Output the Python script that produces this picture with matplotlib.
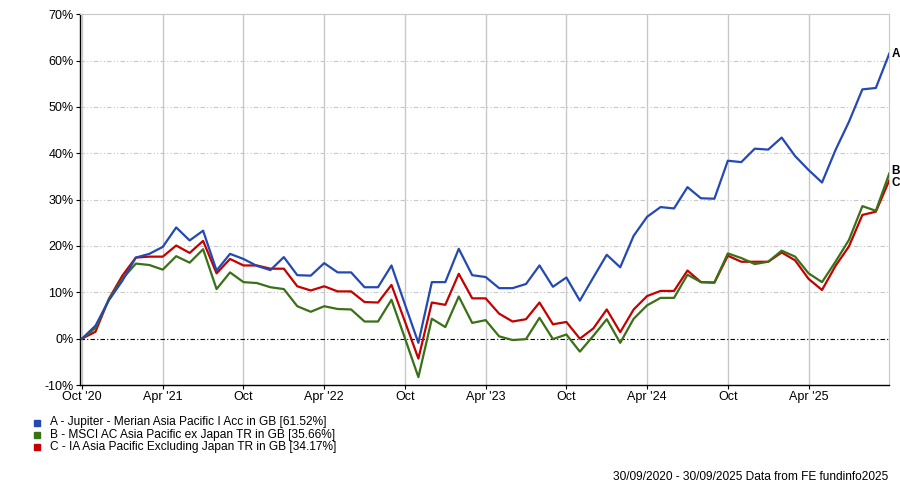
import matplotlib.pyplot as plt
import numpy as np

plt.rcParams['font.family'] = ['Liberation Sans', 'DejaVu Sans']

# monthly cumulative performance (%), 30/09/2020 - 30/09/2025
fund_a = [0, 2.8, 8.3, 12.5, 17.5, 18.3, 19.8, 24.0, 21.2, 23.3, 14.7, 18.3, 17.2,
          15.7, 14.8, 17.6, 13.7, 13.6, 16.3, 14.3, 14.3, 11.1, 11.1, 15.8, 7.4,
          -0.9, 12.2, 12.2, 19.4, 13.7, 13.3, 10.9, 10.9, 11.8, 15.8, 11.2, 13.2,
          8.2, 13.2, 18.1, 15.4, 22.2, 26.3, 28.4, 28.1, 32.7, 30.3, 30.2, 38.4,
          38.1, 41.0, 40.8, 43.4, 39.4, 36.4, 33.7, 40.7, 46.8, 53.8, 54.1, 61.52]
index_b = [0, 2.3, 8.5, 12.9, 16.2, 15.9, 14.9, 17.8, 16.4, 19.3, 10.7, 14.3, 12.2,
           12.0, 11.1, 10.7, 7.0, 5.8, 7.0, 6.4, 6.3, 3.7, 3.7, 8.4, 0.1,
           -8.3, 4.3, 2.5, 9.1, 3.4, 4.0, 0.5, -0.3, -0.1, 4.5, -0.1, 0.9,
           -2.8, 0.6, 4.2, -0.9, 4.3, 7.2, 8.8, 8.8, 13.8, 12.2, 12.1, 18.4,
           17.4, 16.1, 16.6, 19.0, 17.7, 14.1, 12.2, 16.6, 21.3, 28.6, 27.6, 35.66]
sector_c = [0, 1.5, 8.6, 13.6, 17.5, 17.7, 17.7, 20.1, 18.5, 21.1, 14.1, 17.2, 15.8,
            15.8, 15.1, 15.1, 11.3, 10.4, 11.3, 10.2, 10.2, 7.9, 7.8, 11.6, 3.7,
            -4.3, 7.8, 7.3, 14.0, 8.7, 8.7, 5.4, 3.7, 4.2, 7.8, 3.1, 3.6,
            0.0, 2.2, 6.3, 1.4, 6.3, 9.2, 10.3, 10.3, 14.7, 12.2, 12.1, 17.9,
            16.6, 16.6, 16.6, 18.6, 16.9, 12.9, 10.5, 15.7, 19.9, 26.7, 27.4, 34.17]

tick_pos = [0, 6, 12, 18, 24, 30, 36, 42, 48, 54]
tick_labels = ["Oct '20", "Apr '21", "Oct", "Apr '22", "Oct", "Apr '23",
               "Oct", "Apr '24", "Oct", "Apr '25"]
names = ["A - Jupiter - Merian Asia Pacific I Acc in GB [61.52%]",
         "B - MSCI AC Asia Pacific ex Japan TR in GB [35.66%]",
         "C - IA Asia Pacific Excluding Japan TR in GB [34.17%]"]
colors = ['#2449b2', '#3a7016', '#c40000']

fig = plt.figure(figsize=(9, 4.84), dpi=100)
ax = fig.add_axes([80 / 900, 1 - 385 / 484, 809.3 / 900, (385 - 14.3) / 484])

x = np.arange(len(fund_a))
ax.plot(x, sector_c, color=colors[2], lw=1.6, zorder=3)
ax.plot(x, index_b, color=colors[1], lw=1.6, zorder=4)
ax.plot(x, fund_a, color=colors[0], lw=1.6, zorder=5)

ax.set_xlim(-0.15, 60)
ax.set_ylim(-10, 70)

# grid
for t in tick_pos:
    ax.axvline(t, color='#c8c8c8', lw=1, zorder=1)
for v in range(10, 70, 10):
    ax.axhline(v, color='#c8c8c8', lw=0.8, ls=(0, (4, 2, 1, 2, 1, 2)), zorder=1)
ax.axhline(0, color='black', lw=0.8, ls=(0, (4, 2, 1, 2)), zorder=2)

ax.set_xticks(tick_pos)
ax.set_xticklabels(tick_labels)
ax.set_yticks(range(-10, 80, 10))
ax.set_yticklabels([f'{v}%' for v in range(-10, 80, 10)])
ax.tick_params(labelsize=9, length=3, width=0.8, pad=1.5)

for s in ['top', 'right']:
    ax.spines[s].set_color('#c8c8c8')
for s in ['left', 'bottom']:
    ax.spines[s].set_color('black')
    ax.spines[s].set_linewidth(1)

# end labels
ends = [('A', fund_a[-1], 0), ('B', index_b[-1], 1.5), ('C', sector_c[-1], -2)]
for lab, val, dy in ends:
    ax.annotate(lab, (60, val), xytext=(1.5, dy), textcoords='offset points',
                va='center', ha='left', fontsize=8.5, fontweight='bold',
                annotation_clip=False)

# legend
for i, (n, c) in enumerate(zip(names, colors)):
    yy = 1 - (422.5 + i * 12.3) / 484
    fig.patches.append(plt.Rectangle((34 / 900, yy - 3 / 484), 6 / 900, 6 / 484,
                                     transform=fig.transFigure, color=c))
    fig.text(50 / 900, yy, n, fontsize=8.6, va='center', ha='left')

fig.text(888 / 900, 1 - 477 / 484, '30/09/2020 - 30/09/2025 Data from FE fundinfo2025',
         fontsize=8.6, va='center', ha='right')

fig.savefig('out.png', dpi=100)
